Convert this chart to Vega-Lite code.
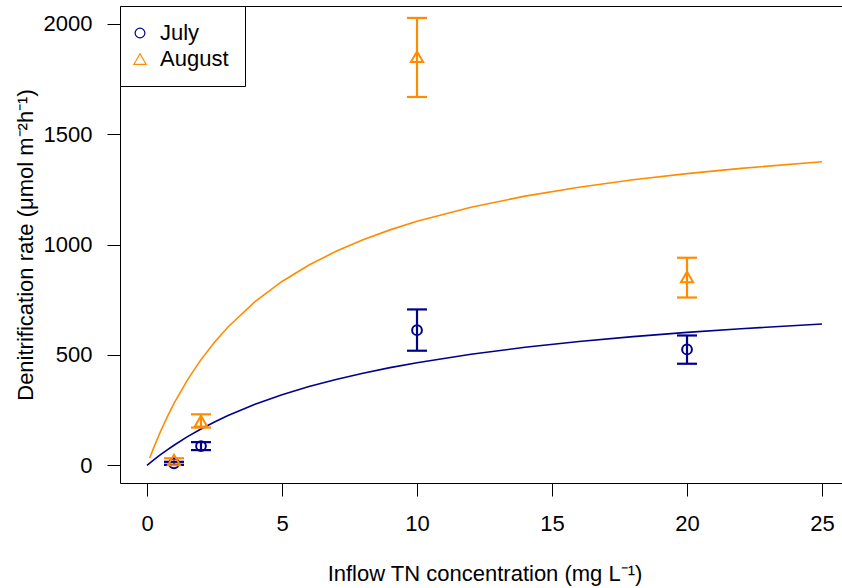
{
  "$schema": "https://vega.github.io/schema/vega-lite/v6.json",
  "autosize": {"type": "none"},
  "width": 722,
  "height": 477,
  "padding": {"left": 120, "top": 6, "right": 0, "bottom": 105},
  "background": "white",
  "datasets": {
    "curves": [
      {"month": "July", "x": 0, "y": 0},
      {"month": "July", "x": 0.25, "y": 24.8},
      {"month": "July", "x": 0.5, "y": 48.1},
      {"month": "July", "x": 0.75, "y": 70.2},
      {"month": "July", "x": 1, "y": 91.1},
      {"month": "July", "x": 1.5, "y": 129.8},
      {"month": "July", "x": 2, "y": 164.7},
      {"month": "July", "x": 2.5, "y": 196.4},
      {"month": "July", "x": 3, "y": 225.3},
      {"month": "July", "x": 4, "y": 276.2},
      {"month": "July", "x": 5, "y": 319.4},
      {"month": "July", "x": 6, "y": 356.6},
      {"month": "July", "x": 7, "y": 388.9},
      {"month": "July", "x": 8, "y": 417.3},
      {"month": "July", "x": 9, "y": 442.5},
      {"month": "July", "x": 10, "y": 464.9},
      {"month": "July", "x": 12, "y": 503.1},
      {"month": "July", "x": 14, "y": 534.5},
      {"month": "July", "x": 16, "y": 560.7},
      {"month": "July", "x": 18, "y": 582.9},
      {"month": "July", "x": 20, "y": 602.0},
      {"month": "July", "x": 22, "y": 618.6},
      {"month": "July", "x": 25, "y": 639.8},
      {"month": "August", "x": 0.1, "y": 33.1},
      {"month": "August", "x": 0.25, "y": 80.3},
      {"month": "August", "x": 0.5, "y": 153.2},
      {"month": "August", "x": 0.75, "y": 219.5},
      {"month": "August", "x": 1, "y": 280.2},
      {"month": "August", "x": 1.5, "y": 387.3},
      {"month": "August", "x": 2, "y": 478.7},
      {"month": "August", "x": 2.5, "y": 557.7},
      {"month": "August", "x": 3, "y": 626.7},
      {"month": "August", "x": 4, "y": 741.3},
      {"month": "August", "x": 5, "y": 832.7},
      {"month": "August", "x": 6, "y": 907.2},
      {"month": "August", "x": 7, "y": 969.1},
      {"month": "August", "x": 8, "y": 1021.5},
      {"month": "August", "x": 9, "y": 1066.2},
      {"month": "August", "x": 10, "y": 1105.0},
      {"month": "August", "x": 12, "y": 1168.7},
      {"month": "August", "x": 14, "y": 1218.9},
      {"month": "August", "x": 16, "y": 1259.4},
      {"month": "August", "x": 18, "y": 1292.9},
      {"month": "August", "x": 20, "y": 1321.0},
      {"month": "August", "x": 22, "y": 1344.9},
      {"month": "August", "x": 25, "y": 1374.7}
    ],
    "obs": [
      {"month": "July", "x": 1, "y": 9, "lo": 2, "hi": 16},
      {"month": "July", "x": 2, "y": 87, "lo": 69, "hi": 105},
      {"month": "July", "x": 10, "y": 612, "lo": 519, "hi": 706},
      {"month": "July", "x": 20, "y": 525, "lo": 460, "hi": 588},
      {"month": "August", "x": 1, "y": 24, "lo": 13, "hi": 32},
      {"month": "August", "x": 2, "y": 200, "lo": 171, "hi": 231},
      {"month": "August", "x": 10, "y": 1850, "lo": 1668, "hi": 2026},
      {"month": "August", "x": 20, "y": 853, "lo": 760, "hi": 940}
    ]
  },
  "layer": [
    {
      "data": {"name": "curves"},
      "mark": {"type": "line", "strokeWidth": 1.6, "clip": true},
      "encoding": {
        "x": {
          "field": "x", "type": "quantitative",
          "scale": {"domain": [-1, 25.74], "nice": false, "zero": false},
          "axis": {
            "orient": "bottom", "values": [0, 5, 10, 15, 20, 25],
            "title": "Inflow TN concentration (mg L⁻¹)",
            "titleX": 364.5, "titleY": 97, "titleBaseline": "alphabetic",
            "labelPadding": 17, "labelBaseline": "top", "grid": false
          }
        },
        "y": {
          "field": "y", "type": "quantitative",
          "scale": {"domain": [-80, 2080], "nice": false, "zero": false},
          "axis": {
            "orient": "left", "values": [0, 500, 1000, 1500, 2000], "format": "d",
            "title": "Denitrification rate (μmol m⁻²h⁻¹)",
            "titleX": -95, "titleBaseline": "middle",
            "labelPadding": 15, "grid": false
          }
        },
        "stroke": {
          "field": "month", "type": "nominal",
          "scale": {"domain": ["August", "July"], "range": ["#FF8C00", "#00008B"]},
          "legend": null
        },
        "detail": {"field": "month"}
      }
    },
    {
      "data": {"name": "obs"},
      "mark": {"type": "rule", "strokeWidth": 2.2, "clip": true},
      "encoding": {
        "x": {"field": "x", "type": "quantitative", "scale": {"domain": [-1, 25.74], "nice": false, "zero": false}, "axis": null},
        "y": {
          "field": "lo", "type": "quantitative",
          "scale": {"domain": [-80, 2080], "nice": false, "zero": false},
          "axis": {
            "orient": "left", "values": [0, 500, 1000, 1500, 2000], "format": "d",
            "title": "Denitrification rate (μmol m⁻²h⁻¹)",
            "titleX": -95, "titleBaseline": "middle",
            "labelPadding": 15, "grid": false
          }
        },
        "y2": {"field": "hi"},
        "stroke": {
          "field": "month", "type": "nominal",
          "scale": {"domain": ["August", "July"], "range": ["#FF8C00", "#00008B"]},
          "legend": null
        }
      }
    },
    {
      "data": {"name": "obs"},
      "mark": {"type": "tick", "orient": "horizontal", "size": 20, "thickness": 2.2, "opacity": 1, "clip": true},
      "encoding": {
        "x": {"field": "x", "type": "quantitative", "scale": {"domain": [-1, 25.74], "nice": false, "zero": false}, "axis": null},
        "y": {
          "field": "lo", "type": "quantitative",
          "scale": {"domain": [-80, 2080], "nice": false, "zero": false},
          "axis": {
            "orient": "left", "values": [0, 500, 1000, 1500, 2000], "format": "d",
            "title": "Denitrification rate (μmol m⁻²h⁻¹)",
            "titleX": -95, "titleBaseline": "middle",
            "labelPadding": 15, "grid": false
          }
        },
        "fill": {
          "field": "month", "type": "nominal",
          "scale": {"domain": ["August", "July"], "range": ["#FF8C00", "#00008B"]},
          "legend": null
        }
      }
    },
    {
      "data": {"name": "obs"},
      "mark": {"type": "tick", "orient": "horizontal", "size": 20, "thickness": 2.2, "opacity": 1, "clip": true},
      "encoding": {
        "x": {"field": "x", "type": "quantitative", "scale": {"domain": [-1, 25.74], "nice": false, "zero": false}, "axis": null},
        "y": {
          "field": "hi", "type": "quantitative",
          "scale": {"domain": [-80, 2080], "nice": false, "zero": false},
          "axis": {
            "orient": "left", "values": [0, 500, 1000, 1500, 2000], "format": "d",
            "title": "Denitrification rate (μmol m⁻²h⁻¹)",
            "titleX": -95, "titleBaseline": "middle",
            "labelPadding": 15, "grid": false
          }
        },
        "fill": {
          "field": "month", "type": "nominal",
          "scale": {"domain": ["August", "July"], "range": ["#FF8C00", "#00008B"]},
          "legend": null
        }
      }
    },
    {
      "data": {"name": "obs"},
      "mark": {"type": "point", "filled": false, "strokeWidth": 2, "opacity": 1, "clip": true},
      "encoding": {
        "x": {
          "field": "x", "type": "quantitative",
          "scale": {"domain": [-1, 25.74], "nice": false, "zero": false},
          "axis": {"orient": "top", "labels": false, "ticks": false, "title": null, "grid": false, "domain": true}
        },
        "y": {
          "field": "y", "type": "quantitative",
          "scale": {"domain": [-80, 2080], "nice": false, "zero": false},
          "axis": {
            "orient": "left", "values": [0, 500, 1000, 1500, 2000], "format": "d",
            "title": "Denitrification rate (μmol m⁻²h⁻¹)",
            "titleX": -95, "titleBaseline": "middle",
            "labelPadding": 15, "grid": false
          }
        },
        "size": {
          "field": "month", "type": "nominal",
          "scale": {"domain": ["July", "August"], "range": [95, 150]},
          "legend": null
        },
        "color": {
          "field": "month", "type": "nominal",
          "scale": {"domain": ["July", "August"], "range": ["#00008B", "#FF8C00"]},
          "legend": {"title": null}
        },
        "shape": {
          "field": "month", "type": "nominal",
          "scale": {"domain": ["July", "August"], "range": ["circle", "triangle-up"]},
          "legend": {"title": null}
        }
      }
    }
  ],
  "resolve": {"axis": {"x": "independent"}},
  "config": {
    "view": {"stroke": null},
    "font": "Liberation Sans",
    "legend": {
      "orient": "none", "legendX": 0, "legendY": 0,
      "strokeColor": "black", "fillColor": "white", "padding": 16,
      "symbolStrokeWidth": 1.2, "symbolSize": 90, "symbolFillColor": "transparent",
      "symbolOffset": -7,
      "labelFontSize": 22, "labelFont": "Liberation Sans", "labelColor": "black",
      "rowPadding": 4, "labelOffset": 9, "cornerRadius": 0
    },
    "axis": {
      "domainColor": "black", "domainWidth": 1,
      "tickColor": "black", "tickSize": 13, "tickWidth": 1,
      "labelFont": "Liberation Sans", "labelFontSize": 22, "labelColor": "black",
      "titleFont": "Liberation Sans", "titleFontSize": 22, "titleFontWeight": "normal", "titleColor": "black",
      "labelAngle": 0, "labelOverlap": false, "labelFlush": false
    }
  }
}
